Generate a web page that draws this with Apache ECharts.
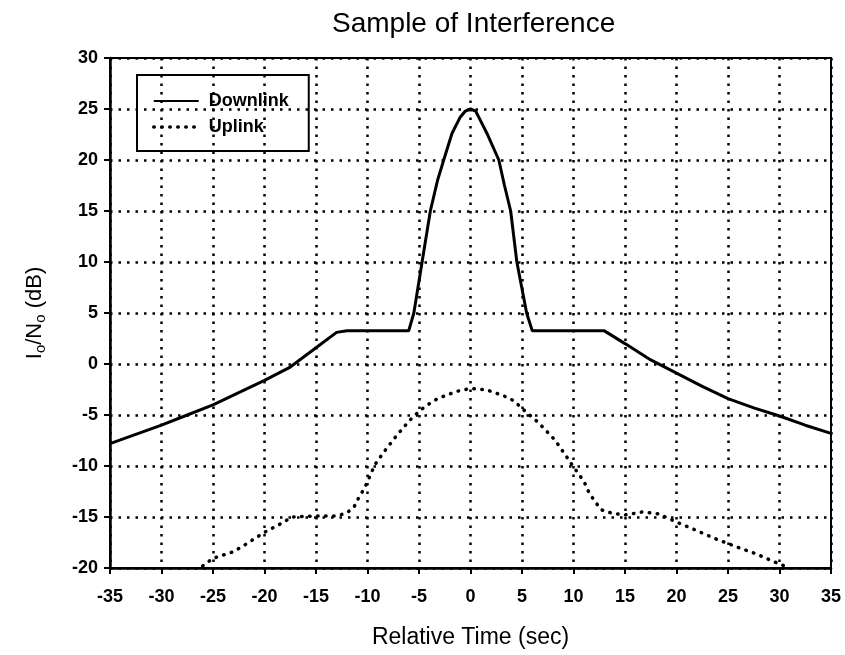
<!DOCTYPE html>
<html>
<head>
<meta charset="utf-8">
<title>Sample of Interference</title>
<script src="https://cdn.jsdelivr.net/npm/echarts@6/dist/echarts.min.js"></script>
<style>
  html, body { margin: 0; padding: 0; background: #fff; }
  #chart { width: 845px; height: 655px; }
</style>
</head>
<body>
<div id="chart"></div>
<script>
// x axis ticks (sec)
var xTicks = [-35, -30, -25, -20, -15, -10, -5, 0, 5, 10, 15, 20, 25, 30, 35]
var yTicks = [-20, -15, -10, -5, 0, 5, 10, 15, 20, 25, 30]

// Downlink (solid)
var downlinkTime = [-35, -32.5, -30, -27.5, -25, -22.5, -20, -17.5, -15, -13, -12, -6, -5.5, -4.7, -3.9, -3.2, -2.6, -1.8, -1, -0.5, 0, 0.5, 0.8, 1.6, 2.75, 3.3, 3.9, 4.5, 5.45, 6, 13, 15, 17.5, 20, 22.5, 25, 27.5, 30, 32.5, 35]
var downlinkIo = [-7.8, -6.9, -6.0, -5.0, -4.0, -2.8, -1.6, -0.3, 1.6, 3.1, 3.25, 3.25, 5, 10, 15, 18, 20, 22.6, 24.2, 24.8, 25, 24.8, 24.2, 22.6, 20, 17.5, 15, 10, 5, 3.25, 3.25, 2.0, 0.4, -0.9, -2.2, -3.4, -4.3, -5.1, -6.0, -6.8]

// Uplink (dotted)
var uplinkTime = [-26, -25, -23, -21.7, -20, -18.5, -17.3, -15, -13, -12, -11.3, -10.8, -10.3, -9.9, -9.3, -8.5, -7.2, -6.4, -5.6, -4.7, -4, -3.2, -2.2, -1.2, 0, 1.6, 3.2, 4.2, 5, 6.6, 7.4, 8.2, 9.4, 10, 10.6, 11.1, 11.5, 12.1, 12.7, 13.8, 15, 16.7, 18.3, 20, 21.9, 23.7, 25, 26.3, 27.7, 29.5, 31]
var uplinkIo = [-19.8, -19.05, -18.4, -17.6, -16.5, -15.7, -15.0, -14.9, -14.9, -14.6, -14.0, -13.0, -12.2, -11.3, -9.9, -8.75, -7.05, -6.1, -5.2, -4.4, -3.9, -3.4, -3.0, -2.65, -2.4, -2.55, -3.1, -3.6, -4.35, -5.75, -6.6, -7.45, -9.2, -10.1, -10.9, -11.7, -12.6, -13.5, -14.3, -14.65, -14.8, -14.5, -14.7, -15.5, -16.3, -17.1, -17.6, -18.1, -18.6, -19.4, -20]

function pairs(xs, ys) {
  return xs.map(function (x, i) { return [x, ys[i]] })
}

var font = '"Liberation Sans", Arial, sans-serif'
var gridDots = { color: '#000', width: 2.5, type: [2.5, 6] }
var dotLine = { color: '#000', width: 3.5, type: [0.5, 7.5], cap: 'round' }

var chart = echarts.init(document.getElementById('chart'))
chart.setOption({
  backgroundColor: '#fff',
  animation: false,
  title: {
    text: 'Sample of Interference',
    left: 327,
    top: 5,
    textStyle: { fontFamily: font, fontSize: 28, fontWeight: 'normal', color: '#000' }
  },
  legend: {
    orient: 'vertical',
    left: 137,
    top: 75,
    padding: [17, 20, 15, 15],
    itemGap: 8,
    itemWidth: 45,
    itemHeight: 14,
    borderColor: '#000',
    borderWidth: 2,
    // hide the little circle, keep only the line sample
    itemStyle: { color: 'rgba(0,0,0,0)', borderColor: 'rgba(0,0,0,0)', borderWidth: 0 },
    textStyle: { fontFamily: font, fontSize: 18, fontWeight: 'bold', color: '#000', padding: [0, 0, 0, 5] },
    data: [
      { name: 'Downlink', lineStyle: { color: '#000', width: 2 } },
      { name: 'Uplink', lineStyle: dotLine }
    ]
  },
  grid: {
    left: 110,
    right: 14,
    top: 58,
    bottom: 87,
    show: true,
    borderColor: '#000',
    borderWidth: 2
  },
  xAxis: {
    type: 'value',
    min: xTicks[0],
    max: xTicks[xTicks.length - 1],
    interval: 5,
    name: 'Relative Time (sec)',
    nameLocation: 'middle',
    nameGap: 58,
    nameTextStyle: { fontFamily: font, fontSize: 23, color: '#000' },
    axisLine: { onZero: false, lineStyle: { color: '#000', width: 2.5 } },
    axisTick: { show: true, inside: false, length: 6, lineStyle: { color: '#000', width: 2 } },
    axisLabel: { margin: 20, fontFamily: font, fontSize: 18, fontWeight: 'bold', color: '#000' },
    splitLine: { show: true, lineStyle: gridDots }
  },
  yAxis: {
    type: 'value',
    min: yTicks[0],
    max: yTicks[yTicks.length - 1],
    interval: 5,
    name: '{a|I}{s|o}{a|/N}{s|o}{a| (dB)}',
    nameLocation: 'middle',
    nameGap: 62,
    nameTextStyle: {
      fontFamily: font,
      color: '#000',
      rich: {
        a: { fontFamily: font, fontSize: 22, lineHeight: 24, verticalAlign: 'top', color: '#000' },
        s: { fontFamily: font, fontSize: 15, lineHeight: 14, padding: [14, 0, 0, 0], verticalAlign: 'bottom', color: '#000' }
      }
    },
    axisLine: { onZero: false, lineStyle: { color: '#000', width: 2.5 } },
    axisTick: { show: true, inside: false, length: 6, lineStyle: { color: '#000', width: 2 } },
    axisLabel: { margin: 12, fontFamily: font, fontSize: 18, fontWeight: 'bold', color: '#000' },
    splitLine: { show: true, lineStyle: gridDots }
  },
  series: [
    {
      name: 'Downlink',
      type: 'line',
      data: pairs(downlinkTime, downlinkIo),
      symbol: 'none',
      smooth: false,
      lineStyle: { color: '#000', width: 3 },
      itemStyle: { color: '#000' }
    },
    {
      name: 'Uplink',
      type: 'line',
      data: pairs(uplinkTime, uplinkIo),
      symbol: 'none',
      smooth: false,
      lineStyle: dotLine,
      itemStyle: { color: '#000' }
    }
  ]
})
</script>
</body>
</html>
